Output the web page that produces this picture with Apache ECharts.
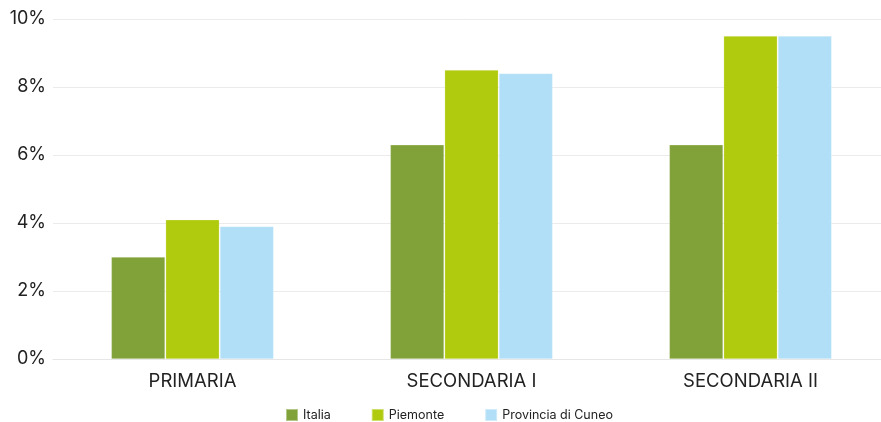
<!DOCTYPE html>
<html>
<head>
<meta charset="utf-8">
<script src="https://cdn.jsdelivr.net/npm/echarts@6/dist/echarts.min.js"></script>
<style>
  html, body { margin: 0; padding: 0; background: #fff; overflow: hidden; }
  #wrap { width: 881px; height: 422px; overflow: hidden; }
  /* plot area runs slightly past the right edge of the view */
  #chart { width: 890px; height: 422px; }
</style>
</head>
<body>
<div id="wrap"><div id="chart"></div></div>
<script>
// School levels and share values (percent) per area
const categories = ['PRIMARIA', 'SECONDARIA I', 'SECONDARIA II'];
const italia = [3.0, 6.3, 6.3];
const piemonte = [4.1, 8.5, 9.5];
const cuneo = [3.9, 8.4, 9.5];
const yTicks = [0, 2, 4, 6, 8, 10];

const fontFamily = 'Inter, "Noto Sans", sans-serif';
const chart = echarts.init(document.getElementById('chart'));

function barSeries(name, data, color) {
  return {
    name: name,
    type: 'bar',
    data: data,
    barGap: '1%',
    barCategoryGap: '41.8%',
    itemStyle: { color: color, borderColor: 'rgba(255,255,255,0.4)', borderWidth: 0.6 },
    emphasis: { disabled: true }
  };
}

chart.setOption({
  animation: false,
  grid: { left: 53, right: 0, top: 19, bottom: 63 },
  legend: {
    bottom: 0,
    padding: 0,
    left: 285,
    itemWidth: 12,
    itemHeight: 12,
    itemGap: 40,
    icon: 'rect',
    textStyle: { fontFamily: fontFamily, fontSize: 12.5, color: '#222' },
    data: ['Italia', 'Piemonte', 'Provincia di Cuneo']
  },
  xAxis: {
    type: 'category',
    data: categories,
    axisTick: { show: false },
    axisLine: { lineStyle: { color: '#e6e6e6' } },
    axisLabel: { fontFamily: fontFamily, fontSize: 18.5, color: '#222', margin: 13 }
  },
  yAxis: {
    type: 'value',
    min: yTicks[0],
    max: yTicks[yTicks.length - 1],
    interval: 2,
    axisLabel: { fontFamily: fontFamily, fontSize: 18, color: '#222', margin: 7, formatter: v => v + '%' },
    splitLine: { lineStyle: { color: '#ebebeb', width: 1 } },
    axisLine: { show: false },
    axisTick: { show: false }
  },
  series: [
    barSeries('Italia', italia, '#80a238'),
    barSeries('Piemonte', piemonte, '#b0ca0d'),
    barSeries('Provincia di Cuneo', cuneo, '#b1dff7')
  ]
});
</script>
</body>
</html>
